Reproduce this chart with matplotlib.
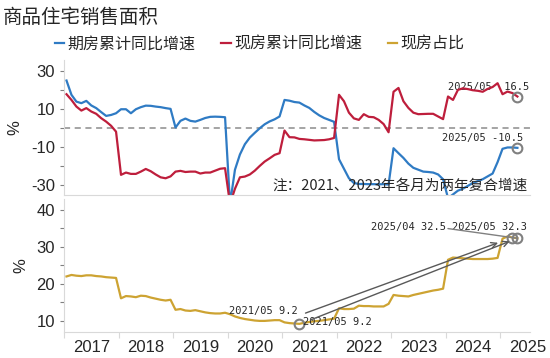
import matplotlib
matplotlib.use("Agg")
import matplotlib.pyplot as plt
import numpy as np

plt.rcParams['font.family'] = ['Noto Sans CJK SC', 'DejaVu Sans']

# 11 points per year (Jan-Feb combined), 2017/02 .. 2025/05
years = ['2017', '2018', '2019', '2020', '2021', '2022', '2023', '2024', '2025']

# 期房累计同比增速 (%)
futures_yoy = [24.9, 17.4, 13.8, 13.0, 14.2, 11.8, 10.4, 8.3, 6.3, 6.8, 7.7,
               9.8, 9.8, 7.7, 9.8, 10.9, 11.7, 11.6, 11.2, 10.9, 10.4, 10.0,
               0.2, 3.7, 4.9, 3.7, 3.3, 4.2, 5.2, 5.8, 5.9, 5.8, 5.6,
               -40.0, -22.0, -14.0, -8.6, -5.1, -2.6, -0.2, 1.9, 3.4, 4.5, 6.0,
               14.7, 14.3, 13.6, 13.3, 11.8, 10.5, 8.4, 6.6, 5.2, 4.2, 3.2,
               -16.5, -21.5, -26.5, -29.0, -29.5, -29.5, -29.6, -29.6, -29.7, -29.6, -29.8,
               -10.7, -13.3, -15.8, -18.8, -21.0, -22.0, -23.0, -23.2, -23.5, -24.5, -27.0,
               -37.0, -35.0, -33.0, -32.0, -30.5, -29.0, -28.0, -27.0, -25.5, -24.0, -18.0,
               -11.0, -10.3, -10.3, -10.5]

# 现房累计同比增速 (%)
completed_yoy = [17.7, 14.7, 11.2, 9.1, 10.4, 8.6, 7.4, 5.1, 3.3, 1.1, -2.0,
                 -24.7, -23.5, -24.2, -24.2, -23.0, -21.6, -22.8, -24.5, -26.0, -26.5, -25.5,
                 -23.0, -22.6, -23.2, -23.0, -23.0, -24.0, -23.5, -23.5, -22.5, -21.5, -21.2,
                 -40.0, -32.0, -26.0, -25.6, -24.5, -22.5, -20.0, -17.7, -16.0, -14.2, -13.3,
                 -1.4, -4.9, -5.0, -5.8, -6.0, -6.3, -6.6, -6.5, -6.4, -6.0, -5.3,
                 17.4, 14.0, 8.0, 5.0, 4.2, 7.2, 5.8, 5.6, 4.2, 2.0, -2.3,
                 19.0, 21.0, 14.0, 10.5, 8.0, 7.2, 7.3, 7.4, 7.4, 6.0, 4.6,
                 16.5, 14.7, 20.0, 20.8, 20.4, 19.8, 19.5, 19.0, 20.5, 21.5, 23.5,
                 17.7, 19.1, 18.3, 16.5]

# 现房占比 (%)
completed_share = [22.0, 22.4, 22.2, 22.1, 22.3, 22.3, 22.1, 22.0, 21.8, 21.7, 21.6,
                   16.1, 16.7, 16.6, 16.4, 16.8, 16.7, 16.3, 16.0, 15.7, 15.5, 15.7,
                   13.0, 13.2, 12.8, 12.7, 12.9, 12.6, 12.3, 12.1, 12.0, 12.0, 12.2,
                   11.8, 11.2, 10.8, 10.5, 10.3, 10.1, 10.0, 10.0, 10.1, 10.2, 10.2,
                   9.6, 9.4, 9.3, 9.2, 9.5, 9.7, 9.9, 10.0, 10.2, 10.4, 10.6,
                   13.4, 13.2, 13.2, 13.3, 14.1, 14.0, 14.0, 13.9, 13.9, 13.9, 14.6,
                   17.0, 16.8, 16.7, 16.6, 17.0, 17.3, 17.6, 17.9, 18.2, 18.4, 18.7,
                   26.5, 27.1, 27.0, 26.9, 26.8, 26.7, 26.7, 26.7, 26.7, 26.8, 27.0,
                   32.2, 32.8, 32.5, 32.3]

blue = '#2f7bc4'
red = '#be1e3c'
gold = '#cda332'
grid_c = '#d9d9d9'
ring = '#808080'

x = np.arange(len(completed_share))
per_year = 11
i_2105 = 4 * per_year + 3
i_2504 = 8 * per_year + 2
i_2505 = 8 * per_year + 3

fig = plt.figure(figsize=(5.5, 3.58), dpi=100)
ax1 = fig.add_axes([0.1164, 0.4553, 0.8473, 0.3771])
ax2 = fig.add_axes([0.1164, 0.0726, 0.8473, 0.3715])

year_edges = np.arange(len(years)) * per_year - 0.5
year_mid = year_edges + per_year / 2

for ax in (ax1, ax2):
    ax.set_xlim(-0.5, 93.55)
    for s in ('top', 'right'):
        ax.spines[s].set_visible(False)
    for s in ('left', 'bottom'):
        ax.spines[s].set_color(grid_c)
    ax.tick_params(axis='y', colors='#7f7f7f', length=3, labelsize=12,
                   labelcolor='#262626')
    ax.set_ylabel('%', fontsize=12, color='#262626', labelpad=6,
                  family='Liberation Sans')

# top panel
ax1.plot(x, futures_yoy, color=blue, lw=1.6, label='期房累计同比增速')
ax1.plot(x, completed_yoy, color=red, lw=1.6, label='现房累计同比增速')
ax1.axhline(0, color='#8c8c8c', lw=1.1, ls=(0, (4, 3)), zorder=1)
ax1.set_ylim(-35.3, 35.7)
ax1.set_yticks([-30, -20, -10, 0, 10, 20, 30])
ax1.set_yticklabels(['-30', '', '-10', '', '10', '', '30'], family='Liberation Sans')
ax1.set_xticks([])

ax1.plot(x[-1], completed_yoy[-1], 'o', ms=7, mfc='none', mec=ring, mew=1.5)
ax1.plot(x[-1], futures_yoy[-1], 'o', ms=7, mfc='none', mec=ring, mew=1.5)
ax1.annotate('2025/05  %.1f' % completed_yoy[-1], (x[-1], completed_yoy[-1]),
             xytext=(-21, 6.5), textcoords='offset points', ha='center', va='center',
             fontsize=7.5, family='DejaVu Sans Mono', color='#262626', zorder=1.5)
ax1.annotate('2025/05 %.1f' % futures_yoy[-1], (x[-1], futures_yoy[-1]),
             xytext=(-25, 7), textcoords='offset points', ha='center', va='center',
             fontsize=7.5, family='DejaVu Sans Mono', color='#262626', zorder=1.5)
ax1.text(0.996, 0.067, '注：2021、2023年各月为两年复合增速', transform=ax1.transAxes,
         ha='right', va='center', fontsize=10.5, color='#262626')

# bottom panel
ax2.plot(x, completed_share, color=gold, lw=1.6, label='现房占比')
ax2.set_ylim(7.0, 42.9)
ax2.set_yticks([10, 15, 20, 25, 30, 35, 40])
ax2.set_yticklabels(['10', '', '20', '', '30', '', '40'], family='Liberation Sans')
ax2.set_xticks(year_edges)
ax2.set_xticklabels([])
ax2.set_xticks(year_mid, minor=True)
ax2.set_xticklabels(years, minor=True, fontsize=12, family='Liberation Sans',
                    color='#262626')
ax2.tick_params(axis='x', which='major', length=4, color=grid_c)
ax2.tick_params(axis='x', which='minor', length=0, pad=6)

for i in (i_2105, i_2504, i_2505):
    ax2.plot(x[i], completed_share[i], 'o', ms=7, mfc='none', mec=ring, mew=1.5)

lab_kw = dict(textcoords='offset points', ha='center', va='center', fontsize=7.5,
              family='DejaVu Sans Mono', color='#262626')
ax2.annotate('2021/05 %.1f' % completed_share[i_2105], (x[i_2105], completed_share[i_2105]),
             xytext=(-26, 9), **lab_kw)
ax2.annotate('2021/05 %.1f' % completed_share[i_2105], (x[i_2105], completed_share[i_2105]),
             xytext=(27, 1), **lab_kw)
ax2.annotate('2025/04 %.1f' % completed_share[i_2504], (x[i_2504], completed_share[i_2504]),
             xytext=(-75, 7.5), **lab_kw)
ax2.annotate('2025/05 %.1f' % completed_share[i_2505], (x[i_2505], completed_share[i_2505]),
             xytext=(-20, 8), **lab_kw)
# leader lines
ax2.annotate('', (x[i_2504], completed_share[i_2504]), xytext=(-149, -54.4),
             textcoords='offset points',
             arrowprops=dict(arrowstyle='->', color='#595959', lw=1, shrinkA=0, shrinkB=11))
ax2.annotate('', (x[i_2505], completed_share[i_2505]), xytext=(-149, -58.8),
             textcoords='offset points',
             arrowprops=dict(arrowstyle='->', color='#595959', lw=1, shrinkA=0, shrinkB=6))
ax2.annotate('', (x[i_2505], completed_share[i_2505]), xytext=(-50, 7),
             textcoords='offset points',
             arrowprops=dict(arrowstyle='-', color='#808080', lw=1, shrinkA=0, shrinkB=0))

fig.text(0.005, 0.952, '商品住宅销售面积', fontsize=14, ha='left', va='center',
         color='#262626')
h1, l1 = ax1.get_legend_handles_labels()
h2, l2 = ax2.get_legend_handles_labels()
fig.legend(h1 + h2, l1 + l2, loc='center', bbox_to_anchor=(0.472, 0.877), ncol=3,
           frameon=False, fontsize=11.5, handlelength=0.6, handletextpad=0.2,
           columnspacing=1.6, labelcolor='#262626')

fig.savefig('out.png', dpi=100)
